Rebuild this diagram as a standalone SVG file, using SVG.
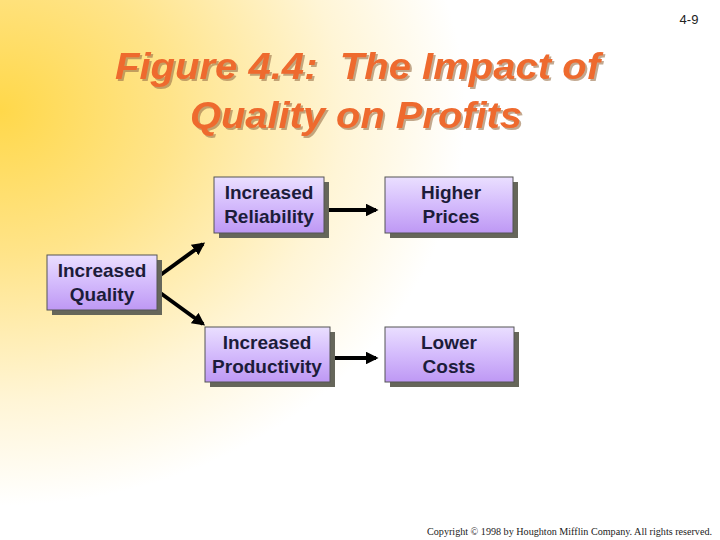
<svg xmlns="http://www.w3.org/2000/svg" width="720" height="540" viewBox="0 0 720 540">
<defs>
<radialGradient id="bg" gradientUnits="userSpaceOnUse" cx="0" cy="110" r="490" gradientTransform="translate(0,110) scale(1,0.85) translate(0,-110)">
<stop offset="0" stop-color="#FFD84A"/>
<stop offset="0.35" stop-color="#FFE48A"/>
<stop offset="0.7" stop-color="#FFF5D6"/>
<stop offset="0.95" stop-color="#FFFFFF"/>
</radialGradient>
<linearGradient id="box" x1="0" y1="0" x2="0" y2="1">
<stop offset="0" stop-color="#EADFFF"/>
<stop offset="0.5" stop-color="#D4BBFC"/>
<stop offset="1" stop-color="#BE98F4"/>
</linearGradient>
<filter id="tshadow" x="-5%" y="-20%" width="110%" height="140%">
<feDropShadow dx="2" dy="2" stdDeviation="0.6" flood-color="#9A7048" flood-opacity="0.6"/>
</filter>
<marker id="ah" viewBox="0 0 10 10" refX="8" refY="5" markerWidth="3.2" markerHeight="3.2" orient="auto" markerUnits="strokeWidth">
<path d="M0,0 L10,5 L0,10 z" fill="#000"/>
</marker>
<style>
.shadow{fill:#66665A}
.node{fill:url(#box);stroke:#555;stroke-width:1}
.lbl{font-family:"Liberation Sans",Arial,sans-serif;font-size:19px;font-weight:bold;fill:#1C1C3A;text-anchor:middle}
.title{font-family:"Liberation Sans",Arial,sans-serif;font-size:37px;font-weight:bold;font-style:italic;fill:#EE6A2E}
.conn{stroke:#000;stroke-width:4;fill:none;marker-end:url(#ah)}
</style>
</defs>
<rect width="720" height="540" fill="url(#bg)"/>
<text x="689" y="24" font-family="Liberation Sans Narrow,Liberation Sans,Arial,sans-serif" font-size="13" fill="#222" text-anchor="middle">4-9</text>
<g id="title" filter="url(#tshadow)">
<text class="title" x="115" y="79" textLength="485" lengthAdjust="spacingAndGlyphs" xml:space="preserve">Figure 4.4:  The Impact of</text>
<text class="title" x="190" y="128" textLength="332" lengthAdjust="spacingAndGlyphs">Quality on Profits</text>
</g>
<g id="connectors">
<line class="conn" x1="159" y1="276" x2="203" y2="244"/>
<line class="conn" x1="159" y1="292" x2="203" y2="324"/>
<line class="conn" x1="327" y1="210" x2="376" y2="210"/>
<line class="conn" x1="333" y1="358" x2="376" y2="358"/>
</g>
<g id="quality">
<rect class="shadow" x="52" y="260" width="110" height="55"/>
<rect class="node" x="47" y="255" width="110" height="55"/>
<text class="lbl" x="102" y="277">Increased</text>
<text class="lbl" x="102" y="301">Quality</text>
</g>
<g id="reliability">
<rect class="shadow" x="219" y="182" width="110" height="56"/>
<rect class="node" x="214" y="177" width="110" height="56"/>
<text class="lbl" x="269" y="199">Increased</text>
<text class="lbl" x="269" y="223">Reliability</text>
</g>
<g id="prices">
<rect class="shadow" x="390" y="182" width="128" height="56"/>
<rect class="node" x="385" y="177" width="128" height="56"/>
<text class="lbl" x="451" y="199">Higher</text>
<text class="lbl" x="451" y="223">Prices</text>
</g>
<g id="productivity">
<rect class="shadow" x="210" y="332" width="125" height="55"/>
<rect class="node" x="205" y="327" width="125" height="55"/>
<text class="lbl" x="267" y="349">Increased</text>
<text class="lbl" x="267" y="373">Productivity</text>
</g>
<g id="costs">
<rect class="shadow" x="390" y="332" width="129" height="55"/>
<rect class="node" x="385" y="327" width="129" height="55"/>
<text class="lbl" x="449" y="349">Lower</text>
<text class="lbl" x="449" y="373">Costs</text>
</g>
<text x="712" y="535" font-family="Liberation Serif,Times New Roman,serif" font-size="10" fill="#222" text-anchor="end" textLength="285" lengthAdjust="spacingAndGlyphs">Copyright © 1998 by Houghton Mifflin Company.  All rights reserved.</text>
</svg>
